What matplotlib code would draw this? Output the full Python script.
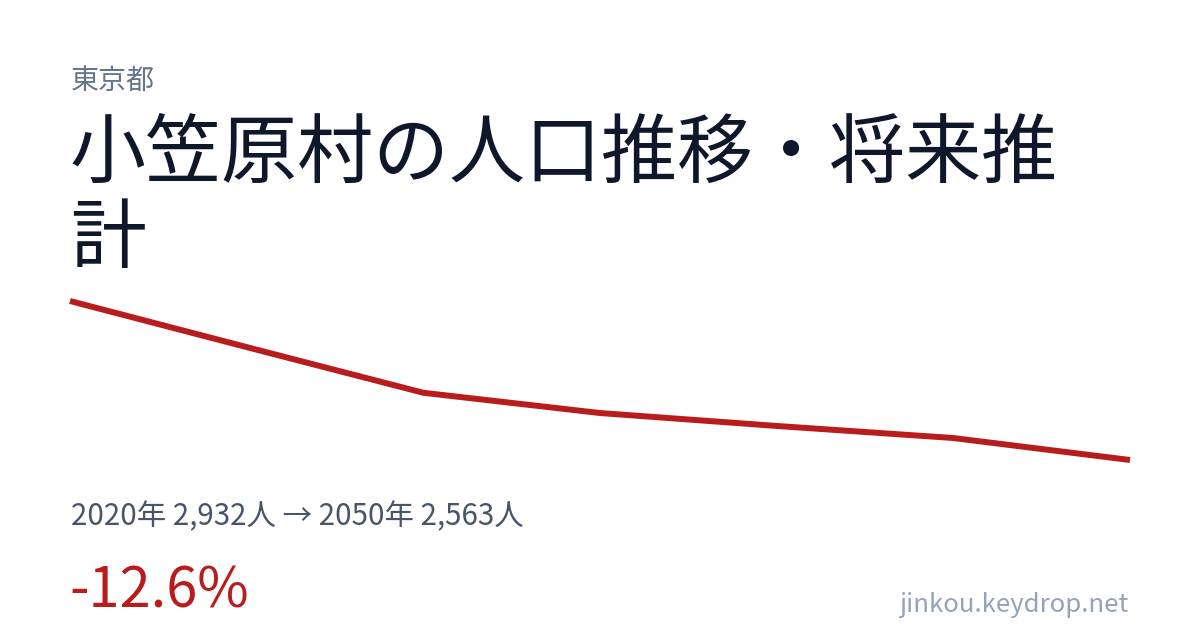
import matplotlib
matplotlib.use("Agg")
import matplotlib.pyplot as plt

years = [2020, 2025, 2030, 2035, 2040, 2045, 2050]
population = [2932, 2825, 2719, 2672, 2642, 2614, 2563]

prefecture = "東京都"
title_line1 = "小笠原村の人口推移・将来推"
title_line2 = "計"
summary = "2020年 2,932人 → 2050年 2,563人"
change = "-12.6%"
site = "jinkou.keydrop.net"

plt.rcParams['font.family'] = ['Noto Sans CJK JP', 'DejaVu Sans']

W, H = 1200, 630
fig = plt.figure(figsize=(12, 6.3), dpi=100)
fig.patch.set_facecolor('white')

def fx(px):
    return px / W

def fy(py):
    return 1 - py / H

# line chart area
left, right, top, bottom = 70, 1130, 301, 460
ax = fig.add_axes([fx(left), fy(bottom), fx(right) - fx(left), fy(top) - fy(bottom)])
ax.plot(years, population, color='#b91c1c', linewidth=4.3, solid_capstyle='butt',
        solid_joinstyle='round', clip_on=False)
ax.set_xlim(min(years), max(years))
ax.set_ylim(min(population), max(population))
ax.axis('off')

px2pt = 72 / 100

fig.text(fx(71), fy(89), prefecture, fontsize=28 * px2pt, color='#64748b', va='baseline', ha='left')
fig.text(fx(70), fy(177), title_line1, fontsize=76 * px2pt, color='#0f172a', va='baseline', ha='left')
fig.text(fx(70), fy(262), title_line2, fontsize=76 * px2pt, color='#0f172a', va='baseline', ha='left')
fig.text(fx(71), fy(525), summary, fontsize=29.5 * px2pt, color='#475569', va='baseline', ha='left')
fig.text(fx(69), fy(608), change, fontsize=56 * px2pt, color='#b91c1c', va='baseline', ha='left')
fig.text(fx(1128), fy(612), site, fontsize=25.8 * px2pt, color='#94a3b8', va='baseline', ha='right')

fig.savefig('out.png', dpi=100, facecolor='white')
